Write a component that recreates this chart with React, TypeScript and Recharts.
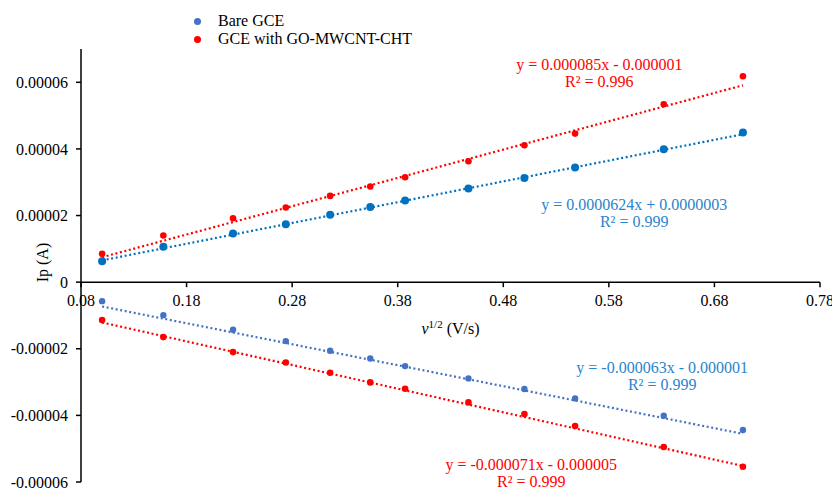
import {
  ComposedChart,
  Scatter,
  Line,
  XAxis,
  YAxis,
  ReferenceLine,
  ReferenceDot,
} from "recharts";

// sqrt of scan rate (V/s)^1/2
const sqrtScanRate = [0.1, 0.158, 0.224, 0.274, 0.316, 0.354, 0.387, 0.447, 0.5, 0.548, 0.632, 0.707];

// peak currents (A)
const bareAnodic = [
  0.0000063, 0.0000106, 0.0000146, 0.0000174, 0.0000202, 0.0000226, 0.0000245, 0.0000281, 0.0000313,
  0.0000344, 0.0000399, 0.0000449,
];
const modAnodic = [
  0.0000085, 0.000014, 0.0000192, 0.0000224, 0.0000259, 0.0000287, 0.0000315, 0.0000363, 0.0000411,
  0.0000446, 0.0000534, 0.0000618,
];
const bareCathodic = [
  -0.0000057, -0.0000099, -0.0000143, -0.0000177, -0.0000206, -0.0000229, -0.0000252, -0.0000289,
  -0.0000321, -0.0000349, -0.0000401, -0.0000444,
];
const modCathodic = [
  -0.0000114, -0.0000165, -0.000021, -0.0000241, -0.0000272, -0.0000301, -0.000032, -0.0000361,
  -0.0000396, -0.0000432, -0.0000495, -0.0000554,
];

// trendline fits as printed on the chart
const trendSlopes = [0.0000624, 0.000085, -0.000063, -0.000071];
const trendIntercepts = [0.0000003, -0.000001, -0.000001, -0.000005];
const trendEquations = [
  "y = 0.0000624x + 0.0000003",
  "y = 0.000085x - 0.000001",
  "y = -0.000063x - 0.000001",
  "y = -0.000071x - 0.000005",
];
const trendR2 = ["R² = 0.999", "R² = 0.996", "R² = 0.999", "R² = 0.999"];

const legendNames = ["Bare GCE", "GCE with GO-MWCNT-CHT"];

const xTicks = [0.08, 0.18, 0.28, 0.38, 0.48, 0.58, 0.68, 0.78];
const yTicks = [-0.00006, -0.00004, -0.00002, 0, 0.00002, 0.00004, 0.00006];

const X_DOMAIN: [number, number] = [0.08, 0.78];
const Y_DOMAIN: [number, number] = [-0.00006, 0.00007];

const W = 832;
const H = 489;
const MARGIN = { top: 49, right: 12, bottom: 6, left: 0 };
const Y_AXIS_W = 81;
const X_AXIS_H = 1;
const PLOT_H = H - MARGIN.top - MARGIN.bottom - X_AXIS_H;
const ZERO_Y = MARGIN.top + (PLOT_H * Y_DOMAIN[1]) / (Y_DOMAIN[1] - Y_DOMAIN[0]);

const FONT = "'Liberation Serif', 'Times New Roman', serif";
const BLUE_A = "#0070C0";
const BLUE_C = "#4472C4";
const RED = "#FF0000";
const EQ_BLUE = "#2a84cc";

const series = [
  { name: "bareAnodic", values: bareAnodic, color: BLUE_A, r: 4, trend: 0 },
  { name: "modAnodic", values: modAnodic, color: RED, r: 3.3, trend: 1 },
  { name: "bareCathodic", values: bareCathodic, color: BLUE_C, r: 3.2, trend: 2 },
  { name: "modCathodic", values: modCathodic, color: RED, r: 3.3, trend: 3 },
];

// where each equation box sits (data coords of first line centre)
const eqAnchors = [
  { x: 0.604, y: 0.0000232, color: EQ_BLUE },
  { x: 0.571, y: 0.0000652, color: RED },
  { x: 0.6305, y: -0.0000257, color: EQ_BLUE },
  { x: 0.5065, y: -0.0000549, color: RED },
];

const toPoints = (vals: number[]) => sqrtScanRate.map((x, i) => ({ x, y: vals[i] }));

const trendPoints = (k: number) => {
  const xs = [sqrtScanRate[0], sqrtScanRate[sqrtScanRate.length - 1]];
  return xs.map((x) => ({ x, y: trendSlopes[k] * x + trendIntercepts[k] }));
};

const XTick = (props: any) => {
  const { x, payload } = props;
  return (
    <g>
      <line x1={x} x2={x} y1={ZERO_Y} y2={ZERO_Y + 5} stroke="#000" strokeWidth={1.5} />
      <text x={x} y={ZERO_Y + 24} textAnchor="middle" fontFamily={FONT} fontSize={16} fill="#000">
        {Number(payload.value).toFixed(2)}
      </text>
    </g>
  );
};

const EqLabel = (k: number) => (props: any) => {
  const { viewBox } = props;
  const cx = viewBox.x + (viewBox.width || 0) / 2;
  const cy = viewBox.y + (viewBox.height || 0) / 2;
  return (
    <g fontFamily={FONT} fontSize={16} fill={eqAnchors[k].color} textAnchor="middle">
      <text x={cx} y={cy + 5}>{trendEquations[k]}</text>
      <text x={cx} y={cy + 22}>{trendR2[k]}</text>
    </g>
  );
};

const XTitle = (props: any) => {
  const { viewBox } = props;
  const cx = viewBox.x + viewBox.width / 2;
  return (
    <text x={cx} y={ZERO_Y + 52} textAnchor="middle" fontFamily={FONT} fontSize={16} fill="#000">
      <tspan fontStyle="italic">v</tspan>
      <tspan fontSize={11} dy={-6}>1/2</tspan>
      <tspan dy={6}> (V/s)</tspan>
    </text>
  );
};

const YTitle = (props: any) => {
  const { viewBox } = props;
  const cx = 42;
  const cy = viewBox.y + viewBox.height / 2 - 3;
  return (
    <text
      x={cx}
      y={cy}
      transform={`rotate(-90 ${cx} ${cy})`}
      textAnchor="middle"
      dominantBaseline="central"
      fontFamily={FONT}
      fontSize={16}
      fill="#000"
    >
      Ip (A)
    </text>
  );
};

export default function App() {
  return (
    <div style={{ position: "absolute", left: 0, top: 0, width: W, height: H, background: "#fff" }}>
      <ComposedChart width={W} height={H} margin={MARGIN}>
        <XAxis
          type="number"
          dataKey="x"
          domain={X_DOMAIN}
          ticks={xTicks}
          allowDataOverflow
          axisLine={false}
          tickLine={false}
          height={X_AXIS_H}
          tick={<XTick />}
          interval={0}
        />
        <YAxis
          type="number"
          dataKey="y"
          domain={Y_DOMAIN}
          ticks={yTicks}
          allowDataOverflow
          width={Y_AXIS_W}
          interval={0}
          axisLine={{ stroke: "#000", strokeWidth: 1.5 }}
          tickLine={{ stroke: "#000", strokeWidth: 1.5 }}
          tickSize={5}
          tickMargin={8}
          tick={{ fontFamily: FONT, fontSize: 16, fill: "#000" }}
          tickFormatter={(v: number) => String(v)}
          label={<YTitle />}
        />
        <ReferenceLine y={0} stroke="#000" strokeWidth={1.5} label={<XTitle />} />
        {series.map((s) => (
          <Line
            key={s.name + "-trend"}
            data={trendPoints(s.trend)}
            dataKey="y"
            type="linear"
            stroke={s.color}
            strokeWidth={2.2}
            strokeDasharray="2 2.6"
            dot={false}
            activeDot={false}
            isAnimationActive={false}
          />
        ))}
        {series.map((s) => (
          <Scatter
            key={s.name}
            name={s.name}
            data={toPoints(s.values)}
            fill={s.color}
            shape={(p: any) => <circle cx={p.cx} cy={p.cy} r={s.r} fill={s.color} />}
            isAnimationActive={false}
          />
        ))}
        {eqAnchors.map((a, k) => (
          <ReferenceDot
            key={"eq" + k}
            x={a.x}
            y={a.y}
            r={0}
            stroke="none"
            fill="none"
            label={EqLabel(k)}
          />
        ))}
      </ComposedChart>
      <div
        style={{
          position: "absolute",
          left: 190,
          top: 12,
          fontFamily: FONT,
          fontSize: 16,
          lineHeight: "18px",
          color: "#000",
        }}
      >
        {legendNames.map((n, i) => (
          <div key={n} style={{ display: "flex", alignItems: "center", height: 18 }}>
            <span
              style={{
                display: "inline-block",
                width: 7,
                height: 7,
                borderRadius: "50%",
                background: i === 0 ? BLUE_C : RED,
                marginLeft: 4,
                marginRight: 17,
              }}
            />
            {n}
          </div>
        ))}
      </div>
    </div>
  );
}
